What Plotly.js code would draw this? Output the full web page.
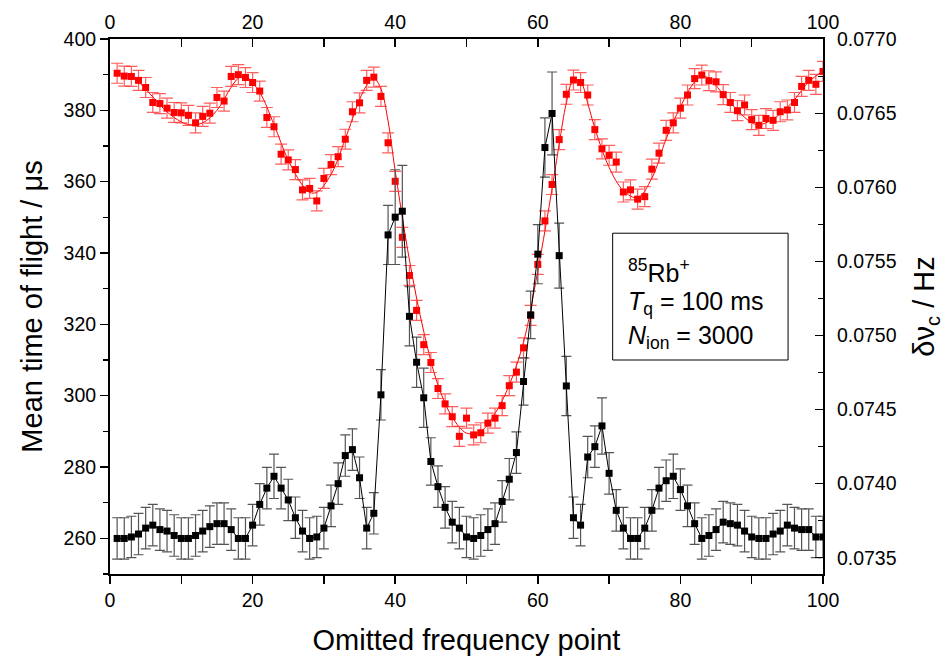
<!DOCTYPE html>
<html>
<head>
<meta charset="utf-8">
<script src="https://cdn.plot.ly/plotly-3.0.1.min.js"></script>
<style>html,body{margin:0;padding:0;background:#fff;}#chart{width:949px;height:659px;}</style>
</head>
<body>
<div id="chart"></div>
<script>
// Omitted frequency point index
const xPoints = Array.from({length: 100}, (_, i) => i + 1);

// Mean time of flight (µs), red series, left axis
const tofValues = [
  390.4, 389.6, 389.5, 388.4, 386.4, 382.2, 381.9, 380.6, 379.4, 379.3,
  378.6, 376.5, 378.3, 379.2, 383.6, 382.6, 389.5, 390.0, 389.2, 387.8,
  385.4, 378.0, 375.4, 367.7, 366.1, 363.4, 357.7, 358.1, 354.6, 360.9,
  364.8, 367.0, 371.9, 379.6, 382.1, 388.4, 389.3, 383.9, 370.9, 360.1,
  344.4, 333.7, 323.9, 314.3, 309.3, 302.0, 297.7, 294.1, 288.6, 293.7,
  289.0, 289.6, 292.3, 293.7, 297.2, 302.8, 306.6, 313.4, 322.5, 336.8,
  349.0, 359.2, 371.8, 384.5, 388.5, 387.8, 384.3, 374.6, 369.2, 367.4,
  365.5, 357.1, 357.7, 355.1, 355.8, 363.5, 368.0, 374.4, 376.5, 380.6,
  384.3, 388.9, 389.9, 388.3, 388.0, 384.4, 382.2, 379.9, 381.5, 377.4,
  375.8, 377.7, 377.2, 379.6, 380.1, 382.2, 386.7, 388.4, 387.3, 390.9
];
const tofError = 2.8;

// Fitted curve through the time-of-flight data
const fitX = [1, 3, 5, 7, 9, 11, 13, 15, 17, 18, 19, 21, 23, 25, 27, 28, 29, 31, 33, 35, 36, 37, 38, 39, 40,
  42, 44, 46, 48, 50, 52, 54, 56, 58, 60, 62, 63, 64, 65, 66, 67, 68, 70, 72, 74, 76, 78, 80, 82, 83, 84,
  86, 88, 90, 91, 92, 94, 96, 98, 100];
const fitY = [390.5, 389.5, 386.0, 381.5, 378.0, 376.0, 376.5, 380.0, 386.5, 389.0, 389.5, 385.0, 376.0,
  366.0, 359.0, 357.0, 357.0, 362.0, 372.0, 383.0, 387.0, 389.0, 386.0, 377.0, 363.0,
  338.0, 318.0, 303.0, 294.0, 289.5, 290.0, 295.0, 303.0, 315.0, 335.0, 358.0, 370.5, 382.0, 388.5, 388.0,
  382.0, 375.0, 364.0, 357.5, 355.5, 361.0, 372.0, 381.0, 388.0, 389.5, 389.0,
  384.5, 380.0, 376.5, 376.0, 376.5, 379.0, 383.0, 388.0, 391.0];

// Cyclotron linewidth δν_c (Hz), black series, right axis
const dnuValues = [
  0.07363, 0.07363, 0.07364, 0.07366, 0.07370, 0.07372, 0.07369, 0.07368, 0.07365, 0.07363,
  0.07363, 0.07365, 0.07368, 0.07371, 0.07373, 0.07373, 0.07369, 0.07363, 0.07363, 0.07372,
  0.07386, 0.07397, 0.07405, 0.07397, 0.07389, 0.07377, 0.07368, 0.07363, 0.07364, 0.07370,
  0.07385, 0.07400, 0.07419, 0.07423, 0.07404, 0.07370, 0.07380, 0.07460, 0.07568, 0.07580,
  0.07584, 0.07513, 0.07482, 0.07458, 0.07415, 0.07398, 0.07384, 0.07374, 0.07370, 0.07364,
  0.07363, 0.07365, 0.07369, 0.07373, 0.07388, 0.07403, 0.07421, 0.07469, 0.07514, 0.07555,
  0.07627, 0.07650, 0.07554, 0.07466, 0.07377, 0.07372, 0.07418, 0.07425, 0.07439, 0.07407,
  0.07382, 0.07370, 0.07363, 0.07363, 0.07370, 0.07382, 0.07397, 0.07402, 0.07405, 0.07396,
  0.07385, 0.07373, 0.07363, 0.07365, 0.07369, 0.07374, 0.07373, 0.07372, 0.07368, 0.07364,
  0.07363, 0.07363, 0.07366, 0.07368, 0.07372, 0.07370, 0.07369, 0.07369, 0.07364, 0.07364
];
const dnuErrors = [
  0.00014, 0.00014, 0.00014, 0.00014, 0.00014, 0.00014, 0.00014, 0.00014, 0.00014, 0.00014,
  0.00014, 0.00014, 0.00014, 0.00014, 0.00014, 0.00014, 0.00014, 0.00014, 0.00014, 0.00014,
  0.00014, 0.00014, 0.00015, 0.00014, 0.00014, 0.00014, 0.00014, 0.00014, 0.00014, 0.00014,
  0.00014, 0.00014, 0.00014, 0.00014, 0.00014, 0.00014, 0.00014, 0.00017, 0.00020, 0.00032,
  0.00031, 0.00020, 0.00017, 0.00020, 0.00016, 0.00014, 0.00014, 0.00014, 0.00014, 0.00014,
  0.00014, 0.00014, 0.00014, 0.00014, 0.00014, 0.00014, 0.00014, 0.00016, 0.00016, 0.00020,
  0.00020, 0.00028, 0.00022, 0.00020, 0.00014, 0.00014, 0.00014, 0.00014, 0.00019, 0.00014,
  0.00014, 0.00014, 0.00014, 0.00014, 0.00014, 0.00014, 0.00014, 0.00014, 0.00015, 0.00014,
  0.00014, 0.00014, 0.00014, 0.00014, 0.00014, 0.00014, 0.00014, 0.00014, 0.00014, 0.00014,
  0.00014, 0.00014, 0.00014, 0.00014, 0.00014, 0.00014, 0.00014, 0.00014, 0.00014, 0.00014
];

const xTickVals = [0, 20, 40, 60, 80, 100];
const leftTickVals = [260, 280, 300, 320, 340, 360, 380, 400];
const rightTickVals = [0.0735, 0.0740, 0.0745, 0.0750, 0.0755, 0.0760, 0.0765, 0.0770];

const FONT = 'Liberation Sans, Arial, sans-serif';
const TICK_SIZE = 19.5;
const TITLE_SIZE = 29;

const traces = [
  {
    x: xPoints, y: dnuValues, type: 'scatter', mode: 'lines+markers',
    yaxis: 'y2', xaxis: 'x',
    line: {color: '#000', width: 1},
    marker: {symbol: 'square', size: 7, color: '#000'},
    error_y: {type: 'data', array: dnuErrors, visible: true, color: '#555', thickness: 1.2, width: 5},
    showlegend: false, hoverinfo: 'skip'
  },
  {
    x: fitX, y: fitY, type: 'scatter', mode: 'lines',
    xaxis: 'x', yaxis: 'y',
    line: {color: '#ff0000', width: 1, shape: 'spline', smoothing: 1},
    showlegend: false, hoverinfo: 'skip'
  },
  {
    x: xPoints, y: tofValues, type: 'scatter', mode: 'markers',
    xaxis: 'x', yaxis: 'y',
    marker: {symbol: 'square', size: 7, color: '#ff0000'},
    error_y: {type: 'constant', value: tofError, visible: true, color: 'rgba(255,40,40,0.75)', thickness: 1.2, width: 6},
    showlegend: false, hoverinfo: 'skip'
  }
];

const axisCommon = {
  showgrid: false, zeroline: false, showline: true, linecolor: '#000', linewidth: 2,
  tickcolor: '#000', tickwidth: 1.5, ticklen: 8,
  tickfont: {family: FONT, size: TICK_SIZE, color: '#000'}
};

const layout = {
  width: 949, height: 659,
  margin: {l: 110, r: 126, t: 39, b: 85, pad: 0},
  paper_bgcolor: '#fff', plot_bgcolor: '#fff',
  font: {family: FONT, color: '#000'},
  xaxis: Object.assign({}, axisCommon, {
    range: [0, 100], tickvals: xTickVals, ticks: 'outside',
    minor: {dtick: 10, ticks: 'outside', ticklen: 8, tickcolor: '#000', tickwidth: 1.5},
    title: {text: 'Omitted frequency point', font: {family: FONT, size: TITLE_SIZE, color: '#000'}, standoff: 19}
  }),
  xaxis2: Object.assign({}, axisCommon, {
    range: [0, 100], tickvals: xTickVals, ticks: 'inside', overlaying: 'x', side: 'top',
    minor: {dtick: 10, ticks: 'inside', ticklen: 8, tickcolor: '#000', tickwidth: 1.5},
    anchor: 'y'
  }),
  yaxis: Object.assign({}, axisCommon, {
    range: [250, 400], tickvals: leftTickVals, ticks: 'outside',
    minor: {dtick: 10, tick0: 250, ticks: 'outside', ticklen: 5, tickcolor: '#000', tickwidth: 1.5},
    title: {text: 'Mean time of flight / μs', font: {family: FONT, size: TITLE_SIZE, color: '#000'}, standoff: 12}
  }),
  yaxis2: Object.assign({}, axisCommon, {
    range: [0.07339, 0.077003], tickvals: rightTickVals, tickformat: '.4f',
    ticks: 'inside', overlaying: 'y', side: 'right', ticklabelstandoff: 8,
    minor: {dtick: 0.00025, tick0: 0.0735, ticks: 'inside', ticklen: 5, tickcolor: '#000', tickwidth: 1.5},
    title: {text: 'δν<sub>c</sub> / Hz', font: {family: FONT, size: TITLE_SIZE, color: '#000'}, standoff: 18}
  }),
  shapes: [
    {type: 'rect', xref: 'paper', yref: 'paper', x0: 0.705, x1: 0.951, y0: 0.40, y1: 0.637,
     line: {color: '#000', width: 1}, fillcolor: 'rgba(0,0,0,0)'}
  ],
  annotations: [
    {xref: 'paper', yref: 'paper', x: 0.724, y: 0.567, xanchor: 'left', yanchor: 'middle', showarrow: false,
     text: '<sup>85</sup>Rb<sup>+</sup>', font: {family: FONT, size: 25, color: '#000'}},
    {xref: 'paper', yref: 'paper', x: 0.724, y: 0.506, xanchor: 'left', yanchor: 'middle', showarrow: false,
     text: '<i>T</i><sub>q</sub> = 100 ms', font: {family: FONT, size: 25, color: '#000'}},
    {xref: 'paper', yref: 'paper', x: 0.724, y: 0.443, xanchor: 'left', yanchor: 'middle', showarrow: false,
     text: '<i>N</i><sub>ion</sub> = 3000', font: {family: FONT, size: 25, color: '#000'}}
  ]
};

// invisible trace to activate the top axis
traces.push({x: [0], y: [250], xaxis: 'x2', yaxis: 'y', type: 'scatter', mode: 'markers',
  marker: {opacity: 0}, showlegend: false, hoverinfo: 'skip'});

Plotly.newPlot('chart', traces, layout, {displayModeBar: false, staticPlot: true});
</script>
</body>
</html>
